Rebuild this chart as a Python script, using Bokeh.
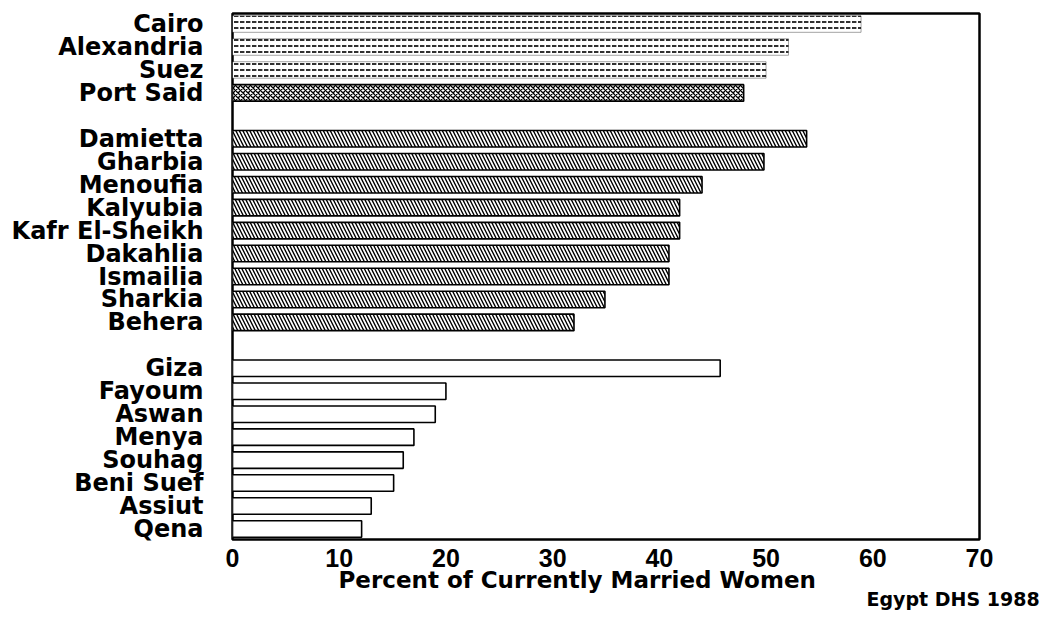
from bokeh.plotting import figure
from bokeh.models import Range1d, FixedTicker, Title, ColumnDataSource
from bokeh.embed import file_html
from bokeh.resources import INLINE

# ---- data ----
regions = ["Cairo", "Alexandria", "Suez", "Port Said",
           "Damietta", "Gharbia", "Menoufia", "Kalyubia", "Kafr El-Sheikh",
           "Dakahlia", "Ismailia", "Sharkia", "Behera",
           "Giza", "Fayoum", "Aswan", "Menya", "Souhag", "Beni Suef",
           "Assiut", "Qena"]
percent = [58.9, 52.1, 50.0, 47.9,
           53.8, 49.8, 44.0, 41.9, 41.9, 40.9, 40.9, 34.9, 32.0,
           45.7, 20.0, 19.0, 17.0, 16.0, 15.1, 13.0, 12.1]
group = ["Urban"] * 4 + ["Lower Egypt"] * 9 + ["Upper Egypt"] * 8
style = ["dots", "dots", "dots", "cross"] + ["diag"] * 9 + ["open"] * 8
x_ticks = [0, 10, 20, 30, 40, 50, 60, 70]
x_title = "Percent of Currently Married Women"
source_note = "Egypt DHS 1988"

# row positions: one blank row between groups
group_order = ["Urban", "Lower Egypt", "Upper Egypt"]
rows = [i + group_order.index(g) for i, g in enumerate(group)]
n_rows = rows[-1] + 1

LABEL_FONT = "DejaVu Sans"

p = figure(frame_width=747, frame_height=526,
           min_border_left=232, min_border_right=69,
           min_border_top=13, min_border_bottom=76,
           x_range=Range1d(0, 70),
           y_range=Range1d(n_rows - 1 + 0.46, -0.46),
           output_backend="svg", toolbar_location=None,
           background_fill_color="white", border_fill_color="white")

p.xgrid.visible = False
p.ygrid.visible = False
p.outline_line_color = "black"
p.outline_line_width = 2.5

def subset(kind):
    idx = [i for i, s in enumerate(style) if s == kind]
    return ColumnDataSource(dict(y=[rows[i] for i in idx],
                                 right=[percent[i] for i in idx]))

bar_h = 0.72
p.hbar(y="y", right="right", left=0, height=bar_h, source=subset("dots"),
       fill_color="white", line_color="black", line_width=0.8, line_alpha=0.45,
       hatch_pattern='"', hatch_color="black", hatch_scale=6, hatch_weight=1.8,
       hatch_alpha=0.9)
p.hbar(y="y", right="right", left=0, height=bar_h, source=subset("cross"),
       fill_color="white", line_color="black", line_width=1.6,
       hatch_pattern="x", hatch_color="black", hatch_scale=5, hatch_weight=1.3)
p.hbar(y="y", right="right", left=0, height=bar_h, source=subset("diag"),
       fill_color="white", line_color="black", line_width=1.6,
       hatch_pattern="\\", hatch_color="black", hatch_scale=7, hatch_weight=1.4)
p.hbar(y="y", right="right", left=0, height=bar_h, source=subset("open"),
       fill_color="white", line_color="black", line_width=1.6)

# y axis: region names
p.yaxis.ticker = FixedTicker(ticks=rows)
p.yaxis.major_label_overrides = {r: name for r, name in zip(rows, regions)}
p.yaxis.axis_line_color = None
p.yaxis.major_tick_line_color = None
p.yaxis.minor_tick_line_color = None
p.yaxis.major_tick_out = 0
p.yaxis.major_label_standoff = 29
p.yaxis.major_label_text_font = LABEL_FONT
p.yaxis.major_label_text_font_style = "bold"
p.yaxis.major_label_text_font_size = "24px"
p.yaxis.major_label_text_color = "black"

# x axis
p.xaxis.ticker = FixedTicker(ticks=x_ticks)
p.xaxis.axis_line_color = None
p.xaxis.major_tick_line_color = None
p.xaxis.minor_tick_line_color = None
p.xaxis.major_tick_out = 0
p.xaxis.major_label_standoff = 9
p.xaxis.major_label_text_font = "Liberation Sans"
p.xaxis.major_label_text_font_style = "bold"
p.xaxis.major_label_text_font_size = "25px"
p.xaxis.major_label_text_color = "black"

# axis title and source note as titles below the axis
p.add_layout(Title(text=x_title, align="left", offset=106, standoff=-9,
                   text_font=LABEL_FONT, text_font_style="bold",
                   text_font_size="23px", text_color="black"), "below")
p.add_layout(Title(text=source_note, align="left", offset=634, standoff=-5,
                   text_font=LABEL_FONT, text_font_style="bold",
                   text_font_size="19px", text_color="black"), "below")

open("out.html", "w").write(file_html(p, INLINE))
